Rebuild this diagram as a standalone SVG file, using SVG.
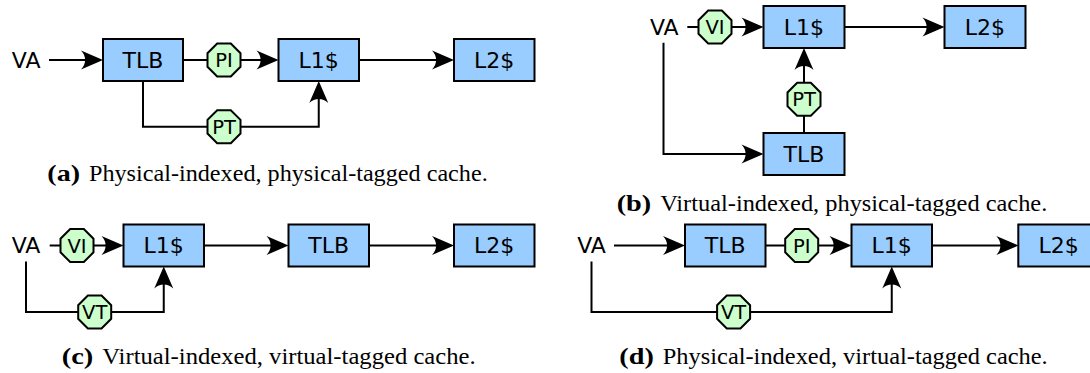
<svg xmlns="http://www.w3.org/2000/svg" width="1090" height="373" viewBox="0 0 1090 373">
  <defs>
    <!-- curved-back arrowhead, tip at the origin, pointing along +x -->
    <path id="ah" d="M0,0 L-22,-9.5 C-16.5,-4 -16.5,4 -22,9.5 Z"/>
    <!-- regular octagon, 33px flat to flat -->
    <polygon id="oct" points="-6.83,-16.5 6.83,-16.5 16.5,-6.83 16.5,6.83 6.83,16.5 -6.83,16.5 -16.5,6.83 -16.5,-6.83"/>
  </defs>
  <style>
    .box{fill:#99ccff;stroke:#000;stroke-width:2}
    .oct{fill:#ccffcc;stroke:#000;stroke-width:2}
    .wire{fill:none;stroke:#000;stroke-width:2}
    .head{fill:#000}
    .lbl{font-family:"DejaVu Sans",sans-serif;font-size:22px;text-anchor:middle;fill:#000}
    .tag{font-family:"DejaVu Sans",sans-serif;font-size:19.5px;text-anchor:middle;fill:#000}
    .cap{font-family:"Liberation Serif","Times New Roman",serif;font-size:22.5px;fill:#000}
    .capb{font-weight:bold}
  </style>

  <!-- ===== connectors ===== -->
  <g id="connectors">
    <!-- (a) physical-indexed, physical-tagged -->
    <path class="wire" d="M49,60 H93"/>
    <path class="wire" d="M183,60 H208"/>
    <path class="wire" d="M240,60 H268.5"/>
    <path class="wire" d="M359,60 H444"/>
    <path class="wire" d="M143,81 V126.7 H318.75 V91"/>
    <use class="head" href="#ah" transform="translate(103,60)"/>
    <use class="head" href="#ah" transform="translate(278.5,60)"/>
    <use class="head" href="#ah" transform="translate(454,60)"/>
    <use class="head" href="#ah" transform="translate(318.75,81) rotate(-90)"/>

    <!-- (b) virtual-indexed, physical-tagged -->
    <path class="wire" d="M687.3,27 H699"/>
    <path class="wire" d="M731,27 H753.5"/>
    <path class="wire" d="M844.5,27 H934.5"/>
    <path class="wire" d="M663.5,42.7 V154 H753.5"/>
    <path class="wire" d="M804,133 V58"/>
    <use class="head" href="#ah" transform="translate(763.5,27)"/>
    <use class="head" href="#ah" transform="translate(944.5,27)"/>
    <use class="head" href="#ah" transform="translate(763.5,154)"/>
    <use class="head" href="#ah" transform="translate(804,48) rotate(-90)"/>

    <!-- (c) virtual-indexed, virtual-tagged -->
    <path class="wire" d="M49.7,245.5 H61"/>
    <path class="wire" d="M93,245.5 H113.5"/>
    <path class="wire" d="M204,245.5 H278.5"/>
    <path class="wire" d="M369,245.5 H444"/>
    <path class="wire" d="M26,261.5 V312 H163.75 V276.5"/>
    <use class="head" href="#ah" transform="translate(123.5,245.5)"/>
    <use class="head" href="#ah" transform="translate(288.5,245.5)"/>
    <use class="head" href="#ah" transform="translate(454,245.5)"/>
    <use class="head" href="#ah" transform="translate(163.75,266.5) rotate(-90)"/>

    <!-- (d) physical-indexed, virtual-tagged -->
    <path class="wire" d="M614,245.5 H675"/>
    <path class="wire" d="M765.5,245.5 H786"/>
    <path class="wire" d="M818,245.5 H841.5"/>
    <path class="wire" d="M932,245.5 H1008.3"/>
    <path class="wire" d="M591.5,261.5 V312 H891.75 V276.5"/>
    <use class="head" href="#ah" transform="translate(685,245.5)"/>
    <use class="head" href="#ah" transform="translate(851.5,245.5)"/>
    <use class="head" href="#ah" transform="translate(1018.3,245.5)"/>
    <use class="head" href="#ah" transform="translate(891.75,266.5) rotate(-90)"/>
  </g>

  <!-- ===== (a) nodes ===== -->
  <g id="a-va"><text class="lbl" x="26.2" y="67.5">VA</text></g>
  <g id="a-tlb"><rect class="box" x="103" y="39" width="80" height="42"/><text class="lbl" x="143" y="67.7">TLB</text></g>
  <g id="a-pi"><use href="#oct" class="oct" x="224" y="60"/><text class="tag" x="224" y="67">PI</text></g>
  <g id="a-l1"><rect class="box" x="278.5" y="39" width="80.5" height="42"/><text class="lbl" x="318.75" y="67.7">L1$</text></g>
  <g id="a-l2"><rect class="box" x="454" y="39" width="80.5" height="42"/><text class="lbl" x="494.25" y="67.7">L2$</text></g>
  <g id="a-pt"><use href="#oct" class="oct" x="224" y="126.7"/><text class="tag" x="224" y="133.7">PT</text></g>
  <g id="a-caption">
    <text class="cap capb" x="47.3" y="180.7" textLength="32.7" lengthAdjust="spacingAndGlyphs">(a)</text>
    <text class="cap" x="89" y="180.7" textLength="398.7" lengthAdjust="spacingAndGlyphs">Physical-indexed, physical-tagged cache.</text>
  </g>

  <!-- ===== (b) nodes ===== -->
  <g id="b-va"><text class="lbl" x="664.3" y="34.5">VA</text></g>
  <g id="b-vi"><use href="#oct" class="oct" x="715" y="27"/><text class="tag" x="715" y="34">VI</text></g>
  <g id="b-l1"><rect class="box" x="763.5" y="6" width="81" height="42"/><text class="lbl" x="804" y="34.7">L1$</text></g>
  <g id="b-l2"><rect class="box" x="944.5" y="6" width="81" height="42"/><text class="lbl" x="985" y="34.7">L2$</text></g>
  <g id="b-pt"><use href="#oct" class="oct" x="804" y="99.3"/><text class="tag" x="804" y="106.3">PT</text></g>
  <g id="b-tlb"><rect class="box" x="763.5" y="133" width="81" height="42"/><text class="lbl" x="804" y="161.7">TLB</text></g>
  <g id="b-caption">
    <text class="cap capb" x="616.7" y="211" textLength="34.5" lengthAdjust="spacingAndGlyphs">(b)</text>
    <text class="cap" x="660.2" y="211" textLength="387.1" lengthAdjust="spacingAndGlyphs">Virtual-indexed, physical-tagged cache.</text>
  </g>

  <!-- ===== (c) nodes ===== -->
  <g id="c-va"><text class="lbl" x="26" y="253">VA</text></g>
  <g id="c-vi"><use href="#oct" class="oct" x="77" y="245.5"/><text class="tag" x="77" y="252.5">VI</text></g>
  <g id="c-l1"><rect class="box" x="123.5" y="224.5" width="80.5" height="42"/><text class="lbl" x="163.75" y="253.2">L1$</text></g>
  <g id="c-tlb"><rect class="box" x="288.5" y="224.5" width="80.5" height="42"/><text class="lbl" x="328.75" y="253.2">TLB</text></g>
  <g id="c-l2"><rect class="box" x="454" y="224.5" width="80.5" height="42"/><text class="lbl" x="494.25" y="253.2">L2$</text></g>
  <g id="c-vt"><use href="#oct" class="oct" x="94.7" y="312"/><text class="tag" x="94.7" y="319">VT</text></g>
  <g id="c-caption">
    <text class="cap capb" x="61.7" y="364" textLength="31.6" lengthAdjust="spacingAndGlyphs">(c)</text>
    <text class="cap" x="102.3" y="364" textLength="373.3" lengthAdjust="spacingAndGlyphs">Virtual-indexed, virtual-tagged cache.</text>
  </g>

  <!-- ===== (d) nodes ===== -->
  <g id="d-va"><text class="lbl" x="591.5" y="253">VA</text></g>
  <g id="d-tlb"><rect class="box" x="685" y="224.5" width="80.5" height="42"/><text class="lbl" x="725.25" y="253.2">TLB</text></g>
  <g id="d-pi"><use href="#oct" class="oct" x="801.7" y="245.5"/><text class="tag" x="801.7" y="252.5">PI</text></g>
  <g id="d-l1"><rect class="box" x="851.5" y="224.5" width="80.5" height="42"/><text class="lbl" x="891.75" y="253.2">L1$</text></g>
  <g id="d-l2"><rect class="box" x="1018.3" y="224.5" width="80.5" height="42"/><text class="lbl" x="1058.55" y="253.2">L2$</text></g>
  <g id="d-vt"><use href="#oct" class="oct" x="733.6" y="312"/><text class="tag" x="733.6" y="319">VT</text></g>
  <g id="d-caption">
    <text class="cap capb" x="619.3" y="364" textLength="34.5" lengthAdjust="spacingAndGlyphs">(d)</text>
    <text class="cap" x="662.8" y="364" textLength="384.9" lengthAdjust="spacingAndGlyphs">Physical-indexed, virtual-tagged cache.</text>
  </g>
</svg>
